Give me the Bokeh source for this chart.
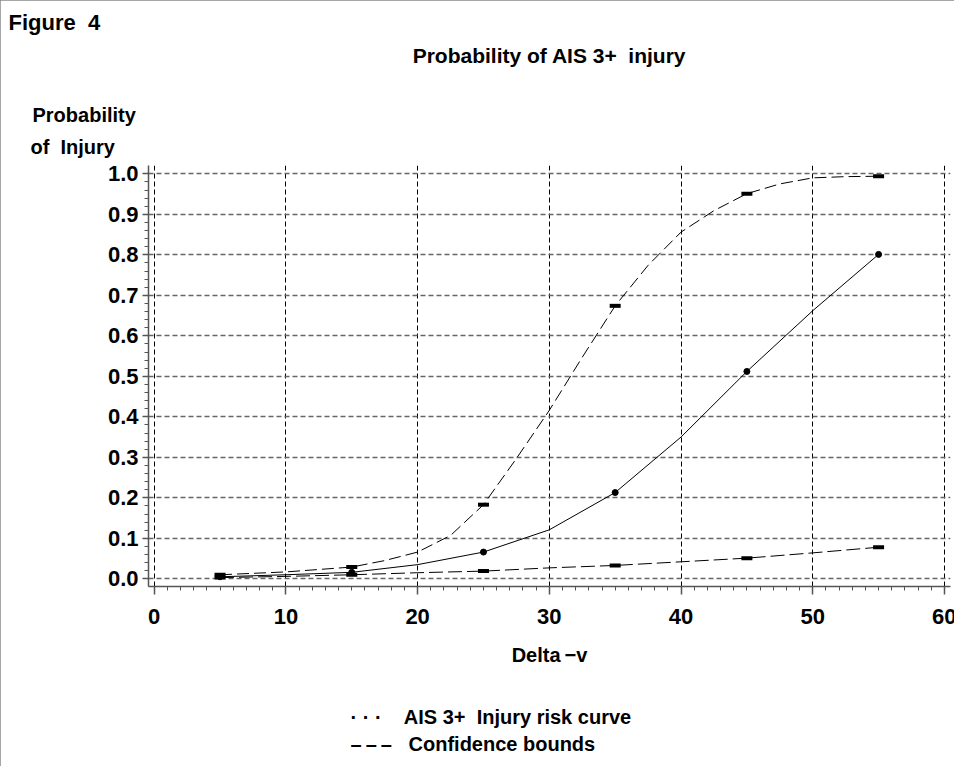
from bokeh.plotting import figure
from bokeh.models import Title, FixedTicker, PrintfTickFormatter, Range1d
from bokeh.embed import file_html
from bokeh.resources import INLINE

# ---- data ----
delta_v = [5, 10, 15, 20, 25, 30, 35, 40, 45, 50, 55]
risk = [0.005, 0.010, 0.016, 0.035, 0.066, 0.121, 0.213, 0.350, 0.512, 0.662, 0.801]
upper_x = [5, 10, 15, 17.5, 20, 22.5, 25, 27.5, 30, 32.5, 35, 37.5, 40, 42.5, 45, 47.5, 50, 52.5, 55]
upper = [0.010, 0.017, 0.029, 0.045, 0.066, 0.107, 0.183, 0.297, 0.416, 0.547, 0.674, 0.774,
         0.856, 0.909, 0.951, 0.975, 0.990, 0.993, 0.994]
lower = [0.003, 0.006, 0.010, 0.015, 0.019, 0.027, 0.033, 0.042, 0.051, 0.064, 0.078]
point_x = [5, 15, 25, 35, 45, 55]
point_risk = [0.005, 0.016, 0.066, 0.213, 0.512, 0.801]
point_upper = [0.010, 0.029, 0.183, 0.674, 0.951, 0.994]
point_lower = [0.003, 0.010, 0.019, 0.033, 0.051, 0.078]

xticks = [0, 10, 20, 30, 40, 50, 60]
yticks = [0.0, 0.1, 0.2, 0.3, 0.4, 0.5, 0.6, 0.7, 0.8, 0.9, 1.0]

FONT = "Liberation Sans"
NB = "\u00a0"

p = figure(width=956, height=768, output_backend="svg", toolbar_location=None,
           x_range=Range1d(-0.433, 60.46), y_range=Range1d(-0.019, 1.0205),
           min_border_left=148, min_border_right=6, min_border_top=165,
           min_border_bottom=182,
           styles={"outline": "2px solid #8a8a8a", "outline-offset": "-2px",
                   "clip-path": "inset(0px 2px 2px 0px)"})
p.outline_line_color = None
p.background_fill_color = "white"
p.border_fill_color = "white"

# grids
p.xgrid.grid_line_color = "black"
p.xgrid.grid_line_dash = "5 3"
p.xgrid.grid_line_width = 1
p.ygrid.grid_line_color = "#666666"
p.ygrid.grid_line_dash = "5 3"
p.ygrid.grid_line_width = 1.5

# axes
p.xaxis.ticker = FixedTicker(ticks=xticks, minor_ticks=list(range(0, 61)))
p.yaxis.ticker = FixedTicker(ticks=yticks, minor_ticks=[i * 0.02 for i in range(0, 51)])
p.yaxis.formatter = PrintfTickFormatter(format="%.1f")
for ax in (p.xaxis, p.yaxis):
    ax.axis_line_color = "#555555"
    ax.axis_line_width = 1.5
    ax.major_tick_line_color = "#555555"
    ax.minor_tick_line_color = "#555555"
    ax.major_tick_line_width = 1.5
    ax.major_tick_in = 0
    ax.minor_tick_in = 0
    ax.major_label_text_font = FONT
    ax.major_label_text_font_style = "bold"
    ax.major_label_text_font_size = "22px"
    ax.major_label_text_color = "black"
p.xaxis.major_tick_out = 8
p.xaxis.minor_tick_out = 4
p.xaxis.major_label_standoff = 14
p.yaxis.major_tick_out = 6
p.yaxis.minor_tick_out = 4
p.yaxis.major_label_standoff = 4

p.xaxis.axis_label = "Delta\u2009\u2212v"
p.xaxis.axis_label_text_font = FONT
p.xaxis.axis_label_text_font_style = "bold"
p.xaxis.axis_label_text_font_size = "20px"
p.xaxis.axis_label_text_color = "black"
p.xaxis.axis_label_standoff = 17

# curves
p.line(upper_x, upper, line_color="black", line_width=1, line_dash="12 5")
p.line(delta_v, lower, line_color="black", line_width=1, line_dash="14 5")
p.line(delta_v, risk, line_color="black", line_width=1)
p.scatter(point_x, point_upper, marker="dash", size=11, line_width=4, line_color="black")
p.scatter(point_x, point_lower, marker="dash", size=11, line_width=4, line_color="black")
p.scatter(point_x, point_risk, marker="circle", size=6, fill_color="black", line_color="black")


def title(text, side, standoff, align="left", offset=0, size="20px"):
    p.add_layout(Title(text=text, align=align, offset=offset, standoff=standoff,
                       text_font=FONT, text_font_style="bold", text_font_size=size,
                       text_color="black"), side)

# above: first added sits next to the frame
title("of" + NB + NB + "Injury", "above", 16, offset=-118)
title("Probability", "above", 0, offset=-116)
title(" ", "above", 11)
title("Probability of AIS 3+" + NB + NB + "injury", "above", 0, align="center", size="21px")
title("Figure" + NB + NB + "4", "above", 14, offset=-140, size="22px")

# below: legend rows after the x axis
title(" ", "below", 11)
title("\u00b7 \u00b7 \u00b7" + NB * 4 + "AIS 3+" + NB + NB + "Injury" + NB + "risk" + NB + "curve",
      "below", 0, offset=202)
title("\u2013\u2009\u2013\u2009\u2013" + NB * 3 + "Confidence" + NB + "bounds",
      "below", 6, offset=202)

open("out.html", "w").write(file_html(p, INLINE))
